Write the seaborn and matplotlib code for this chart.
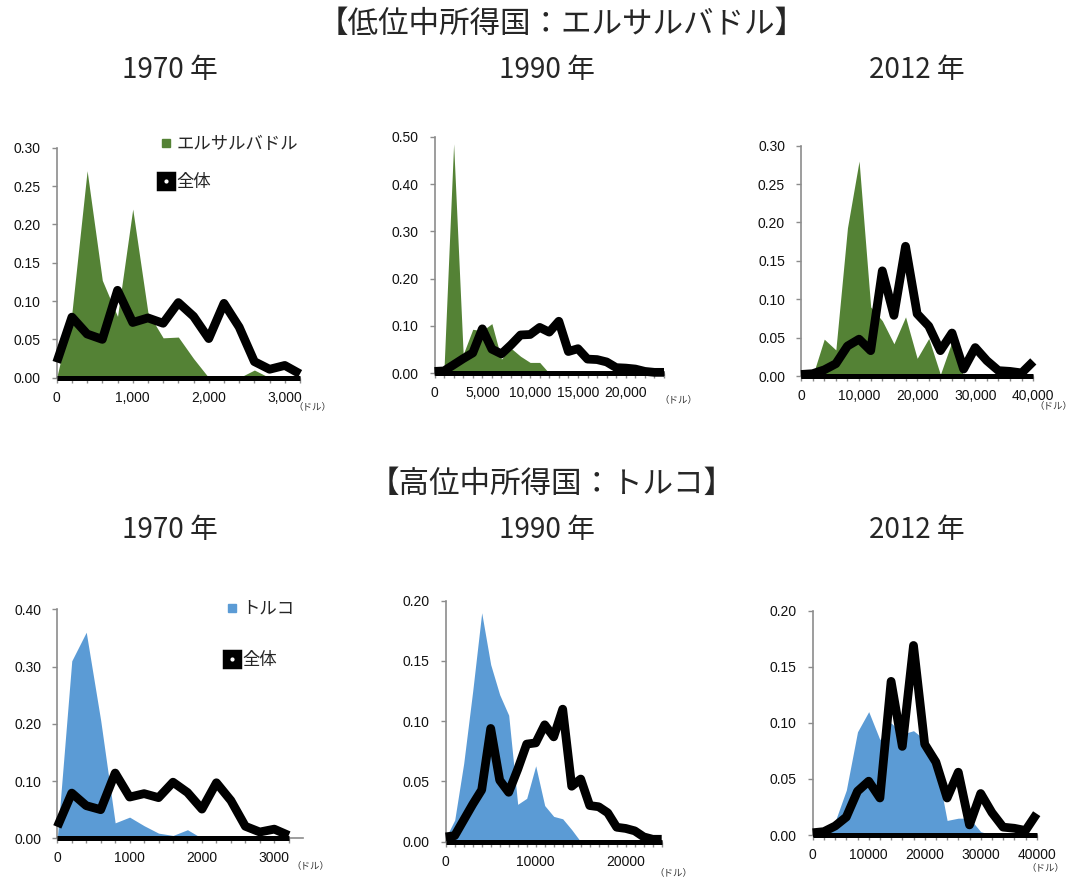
import matplotlib
matplotlib.use("Agg")
import matplotlib.pyplot as plt
from matplotlib.lines import Line2D
from matplotlib.ticker import FixedLocator, FuncFormatter, MultipleLocator
import seaborn as sns

# ---- income bins (US dollars per capita) ----
bins_1970 = list(range(0, 3201, 200))
bins_1990 = list(range(0, 24001, 1000))
bins_2012 = list(range(0, 40001, 2000))

# ---- share of population in each income bin: whole world ----
world_1970 = [0.02, 0.079, 0.057, 0.05, 0.114, 0.072, 0.078, 0.071, 0.098,
              0.08, 0.051, 0.097, 0.066, 0.021, 0.011, 0.016, 0.005]
world_1990 = [0.004, 0.005, 0.018, 0.031, 0.043, 0.094, 0.051, 0.041, 0.06,
              0.081, 0.082, 0.097, 0.087, 0.11, 0.046, 0.052, 0.03, 0.029,
              0.024, 0.012, 0.011, 0.009, 0.004, 0.002, 0.002]
world_2012 = [0.002, 0.003, 0.008, 0.016, 0.039, 0.048, 0.033, 0.137, 0.079,
              0.169, 0.081, 0.065, 0.033, 0.056, 0.009, 0.037, 0.02, 0.007,
              0.006, 0.004, 0.019]

# ---- El Salvador (lower-middle income) ----
salvador_1970 = [0.0, 0.085, 0.27, 0.127, 0.08, 0.22, 0.085, 0.052, 0.053,
                 0.025, 0.0, 0.0, 0.0, 0.01, 0.0, 0.0, 0.0]
salvador_1990 = [0.0, 0.012, 0.485, 0.04, 0.093, 0.09, 0.105, 0.03, 0.053,
                 0.036, 0.023, 0.023, 0.0, 0.0, 0.0, 0.0, 0.0, 0.0, 0.0, 0.0,
                 0.0, 0.0, 0.0, 0.0, 0.0]
salvador_2012 = [0.0, 0.0, 0.048, 0.034, 0.193, 0.28, 0.09, 0.072, 0.042,
                 0.077, 0.023, 0.049, 0.002, 0.045, 0.0, 0.0, 0.0, 0.0, 0.0,
                 0.0, 0.0]

# ---- Turkey (upper-middle income) ----
turkey_1970 = [0.0, 0.31, 0.36, 0.206, 0.027, 0.037, 0.022, 0.009, 0.005,
               0.015, 0.0, 0.0, 0.0, 0.0, 0.0, 0.0, 0.0]
turkey_1990 = [0.003, 0.018, 0.065, 0.125, 0.19, 0.147, 0.122, 0.105, 0.031,
               0.036, 0.063, 0.03, 0.021, 0.019, 0.01, 0.0, 0.0, 0.0, 0.0,
               0.0, 0.0, 0.0, 0.0, 0.0, 0.0]
turkey_2012 = [0.002, 0.003, 0.012, 0.04, 0.092, 0.11, 0.085, 0.10, 0.09,
               0.093, 0.085, 0.065, 0.013, 0.015, 0.015, 0.003, 0.0, 0.0, 0.0,
               0.0, 0.0]

section_titles = ["【低位中所得国：エルサルバドル】", "【高位中所得国：トルコ】"]
year_labels = ["1970 年", "1990 年", "2012 年"]
country_names = ["エルサルバドル", "トルコ"]
world_name = "全体"
unit_label = "（ドル）"

GREEN = "#548235"
BLUE = "#5b9bd5"
AXIS_GREY = "#8c8c8c"
JP = ["Noto Sans CJK JP", "DejaVu Sans"]

sns.set_theme(style="white")
plt.rcParams["font.family"] = ["Liberation Sans", "Noto Sans CJK JP", "DejaVu Sans"]

W, H = 1071, 880
fig = plt.figure(figsize=(W / 100, H / 100), dpi=100)


def px_rect(left, right, top, bottom):
    """Axes rectangle from pixel edges (origin at the top-left corner)."""
    return [left / W, 1 - bottom / H, (right - left) / W, (bottom - top) / H]


panels = [
    dict(bins=bins_1970, country=salvador_1970, world=world_1970, color=GREEN,
         rect=px_rect(56.7, 300, 147.7, 377.7), xmax=3200, ymax=0.30, ystep=0.05,
         xticks=[0, 1000, 2000, 3000], commas=True, unit=(312, 407)),
    dict(bins=bins_1990, country=salvador_1990, world=world_1990, color=GREEN,
         rect=px_rect(434.5, 664, 136.7, 373.3), xmax=24000, ymax=0.50, ystep=0.10,
         xticks=[0, 5000, 10000, 15000, 20000], commas=True, unit=(678, 400)),
    dict(bins=bins_2012, country=salvador_2012, world=world_2012, color=GREEN,
         rect=px_rect(801, 1033.3, 145.7, 376), xmax=40000, ymax=0.30, ystep=0.05,
         xticks=[0, 10000, 20000, 30000, 40000], commas=True, unit=(1053, 406)),
    dict(bins=bins_1970, country=turkey_1970, world=world_1970, color=BLUE,
         rect=px_rect(57.3, 303.2, 609.3, 838.3), xmax=3400, ymax=0.40, ystep=0.10,
         xticks=[0, 1000, 2000, 3000], commas=False, unit=(310, 866)),
    dict(bins=bins_1990, country=turkey_1990, world=world_1990, color=BLUE,
         rect=px_rect(445.7, 661.7, 600.7, 841.7), xmax=24000, ymax=0.20, ystep=0.05,
         xticks=[0, 10000, 20000], commas=False, unit=(673, 873)),
    dict(bins=bins_2012, country=turkey_2012, world=world_2012, color=BLUE,
         rect=px_rect(812.7, 1036.7, 610.7, 835), xmax=40000, ymax=0.20, ystep=0.05,
         xticks=[0, 10000, 20000, 30000, 40000], commas=False, unit=(1045, 868)),
]

axes = []
for p in panels:
    ax = fig.add_axes(p["rect"])
    xs = p["bins"]
    # country distribution as a filled area
    ax.fill_between(xs, 0, p["country"], color=p["color"], lw=0, zorder=1)
    # heavy base line along the zero level, drawn over the axis spine
    ax.hlines(0, xs[0], xs[-1], color="black", lw=3.6, zorder=2.8, clip_on=False)
    # world distribution as a thick line
    sns.lineplot(x=xs, y=p["world"], ax=ax, color="black", lw=6.3, zorder=3,
                 clip_on=False, solid_joinstyle="round", solid_capstyle="butt",
                 legend=False)

    ax.set_xlim(0, p["xmax"])
    ax.set_ylim(0, p["ymax"])
    ax.set_xlabel("")
    ax.set_ylabel("")
    ax.yaxis.set_major_locator(MultipleLocator(p["ystep"]))
    ax.yaxis.set_major_formatter(FuncFormatter(lambda v, _: f"{v:.2f}"))
    ax.xaxis.set_major_locator(FixedLocator(p["xticks"]))
    ax.xaxis.set_minor_locator(FixedLocator(xs))
    if p["commas"]:
        ax.xaxis.set_major_formatter(FuncFormatter(lambda v, _: f"{v:,.0f}"))
    else:
        ax.xaxis.set_major_formatter(FuncFormatter(lambda v, _: f"{v:.0f}"))

    for side in ("top", "right"):
        ax.spines[side].set_visible(False)
    for side in ("left", "bottom"):
        ax.spines[side].set_color(AXIS_GREY)
        ax.spines[side].set_linewidth(1.2)
    ax.tick_params(axis="y", which="major", left=True, length=3.5, width=1,
                   color=AXIS_GREY, labelsize=10, pad=8, direction="out",
                   labelcolor="#111111")
    ax.tick_params(axis="x", which="both", bottom=True, length=3.5, width=1,
                   color=AXIS_GREY, direction="out")
    ax.tick_params(axis="x", which="major", labelsize=10, pad=6,
                   labelcolor="#111111")
    ax.grid(False)

    ux, uy = p["unit"]
    fig.text(ux / W, 1 - uy / H, unit_label, ha="center", va="center",
             fontsize=6.8, family=JP, color="#333333")
    axes.append(ax)


def legend_handles(color):
    area = Line2D([], [], ls="none", marker="s", ms=6, color=color)
    line = (Line2D([], [], ls="none", marker="s", ms=11, mfc="black",
                   mec="black", mew=2.5),
            Line2D([], [], ls="none", marker="o", ms=2, color="white"))
    return [area, line]


leg_specs = [
    (axes[0], GREEN, country_names[0], (158, 135), 1.15),
    (axes[3], BLUE, country_names[1], (224, 600), 1.9),
]
for ax, color, name, (lx, ly), spacing in leg_specs:
    ax.legend(legend_handles(color), [name, world_name], loc="upper left",
              bbox_to_anchor=(lx / W, 1 - ly / H), bbox_transform=fig.transFigure,
              frameon=False, prop={"family": JP, "size": 12.5},
              handlelength=0.9, handletextpad=0.15, labelspacing=spacing,
              borderpad=0, borderaxespad=0)

# section headings and year captions
fig.text(562 / W, 1 - 24 / H, section_titles[0], ha="center", va="center",
         fontsize=22, family=JP)
fig.text(552 / W, 1 - 484 / H, section_titles[1], ha="center", va="center",
         fontsize=22, family=JP)
for cx, label in zip((170, 547, 917), year_labels):
    fig.text(cx / W, 1 - 70 / H, label, ha="center", va="center",
             fontsize=20, family=JP)
    fig.text(cx / W, 1 - 530 / H, label, ha="center", va="center",
             fontsize=20, family=JP)

fig.savefig("out.png", dpi=100, facecolor="white")
